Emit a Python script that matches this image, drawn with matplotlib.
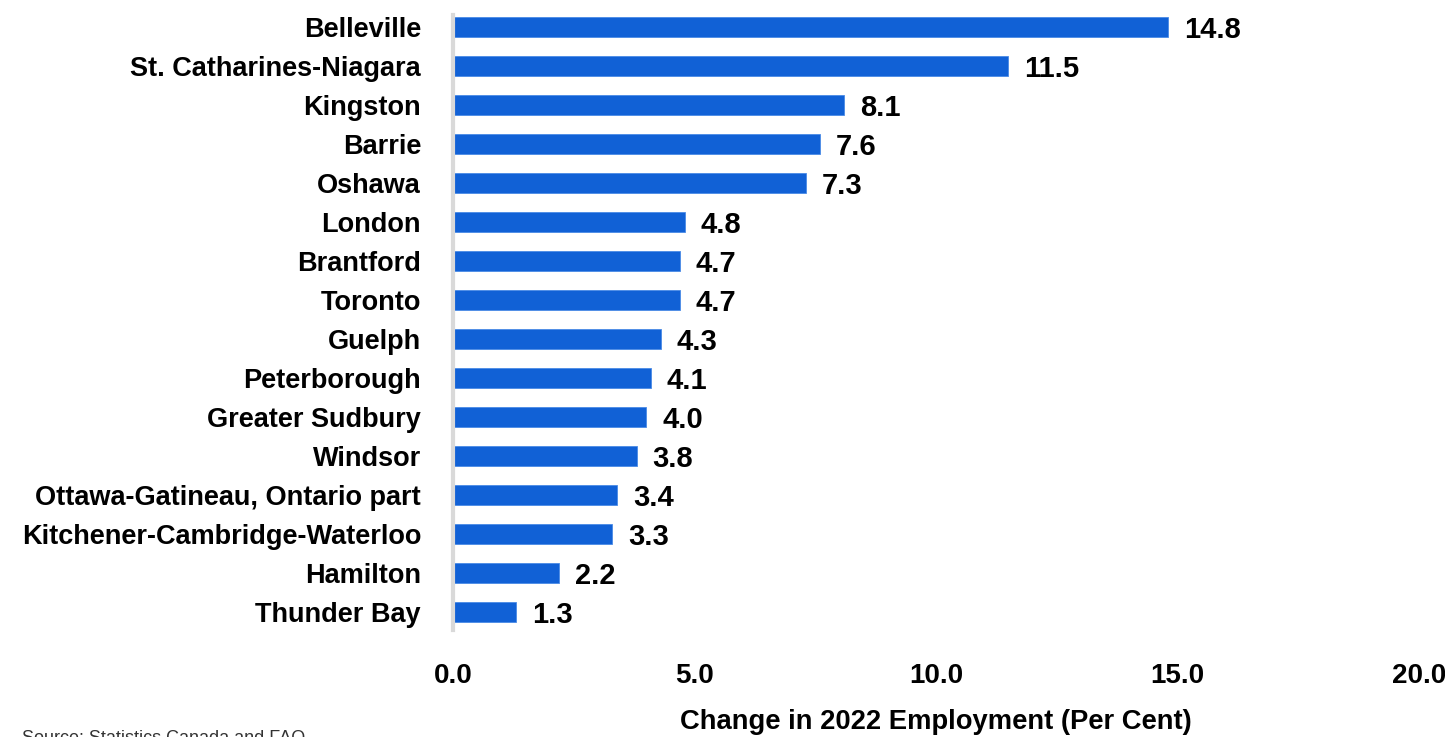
import matplotlib.pyplot as plt

cities = ["Belleville", "St. Catharines-Niagara", "Kingston", "Barrie", "Oshawa",
          "London", "Brantford", "Toronto", "Guelph", "Peterborough",
          "Greater Sudbury", "Windsor", "Ottawa-Gatineau, Ontario part",
          "Kitchener-Cambridge-Waterloo", "Hamilton", "Thunder Bay"]
change = [14.8, 11.5, 8.1, 7.6, 7.3, 4.8, 4.7, 4.7, 4.3, 4.1, 4.0, 3.8, 3.4, 3.3, 2.2, 1.3]
xticks = [0, 5, 10, 15, 20]

plt.rcParams['font.family'] = ['Liberation Sans', 'DejaVu Sans']
plt.rcParams['font.weight'] = 'bold'

fig = plt.figure(figsize=(14.45, 7.37), dpi=100)
ax = fig.add_axes([0.3135, 0.1452, 0.6685, 0.8344])

y = list(range(len(cities)))
ax.barh(y, change, height=0.52, color='#1161d6', edgecolor='#4a8ae6', linewidth=0.6)
for yi, v in zip(y, change):
    ax.text(v + 0.33, yi, f"{v:.1f}", va='center_baseline', ha='left', fontsize=21, fontweight='bold')

ax.set_ylim(15.46, -0.31)
ax.set_xlim(0, 20)
ax.set_yticks(y)
ax.set_yticklabels(cities, fontsize=19.5, fontweight='bold')
ax.set_xticks(xticks)
ax.set_xticklabels([f"{t:.1f}" for t in xticks], fontsize=20, fontweight='bold')
ax.tick_params(axis='both', length=0)
ax.tick_params(axis='x', pad=24)
ax.tick_params(axis='y', pad=23)

for s in ['top', 'right', 'bottom']:
    ax.spines[s].set_visible(False)
ax.spines['left'].set_color('#d9d9d9')
ax.spines['left'].set_linewidth(3)

ax.set_xlabel("Change in 2022 Employment (Per Cent)", fontsize=19.7, fontweight='bold', labelpad=14)

fig.text(0.015, -0.002, "Source: Statistics Canada and FAO", fontsize=13, fontweight='normal',
         color='#333333', va='center', ha='left')

fig.savefig("out.png", dpi=100)
